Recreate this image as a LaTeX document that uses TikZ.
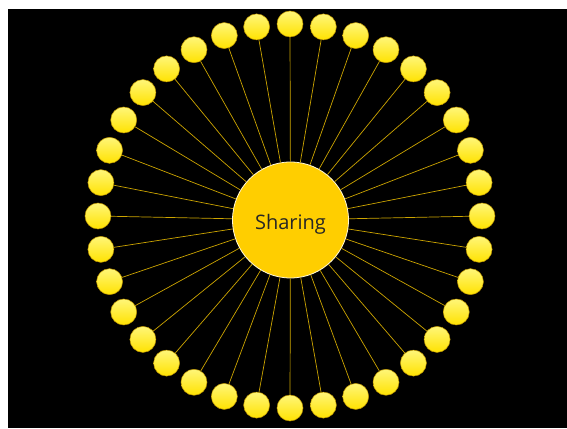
\documentclass[tikz,border=0pt]{standalone}
\usepackage{fontspec}
\setmainfont{Open Sans}
\definecolor{hub}{RGB}{255,206,0}
\definecolor{spoke}{RGB}{205,165,0}
\definecolor{leaftop}{RGB}{255,246,120}
\definecolor{leafbot}{RGB}{255,226,0}
\definecolor{leafrim}{RGB}{190,150,0}
\begin{document}
\begin{tikzpicture}[x=1pt,y=1pt,
  hubnode/.style={circle,fill=hub,draw=white!85!hub,line width=0.8pt,minimum size=116pt,inner sep=0pt},
  hubtext/.style={font=\fontsize{20}{24}\selectfont,text=black!85,inner sep=0pt},
  leafnode/.style={circle,top color=leaftop,bottom color=leafbot,draw=leafrim,line width=0.5pt,minimum size=26pt,inner sep=0pt},
  spokeline/.style={draw=spoke,line width=0.7pt}]
\useasboundingbox (0,0) rectangle (567,428);
\fill[black] (8,0) rectangle (567,419);
\node[hubnode,label={[hubtext,yshift=-4pt]center:Sharing}] (hub) at (290.5,208) {};
\foreach \i in {0,...,35}{
  \pgfmathsetmacro{\ang}{90-10*\i}
  \node[leafnode] (leaf\i) at ({290+192*cos(\ang)},{212+192*sin(\ang)}) {};
  \draw[spokeline] (hub) -- (leaf\i);
}
\end{tikzpicture}
\end{document}
